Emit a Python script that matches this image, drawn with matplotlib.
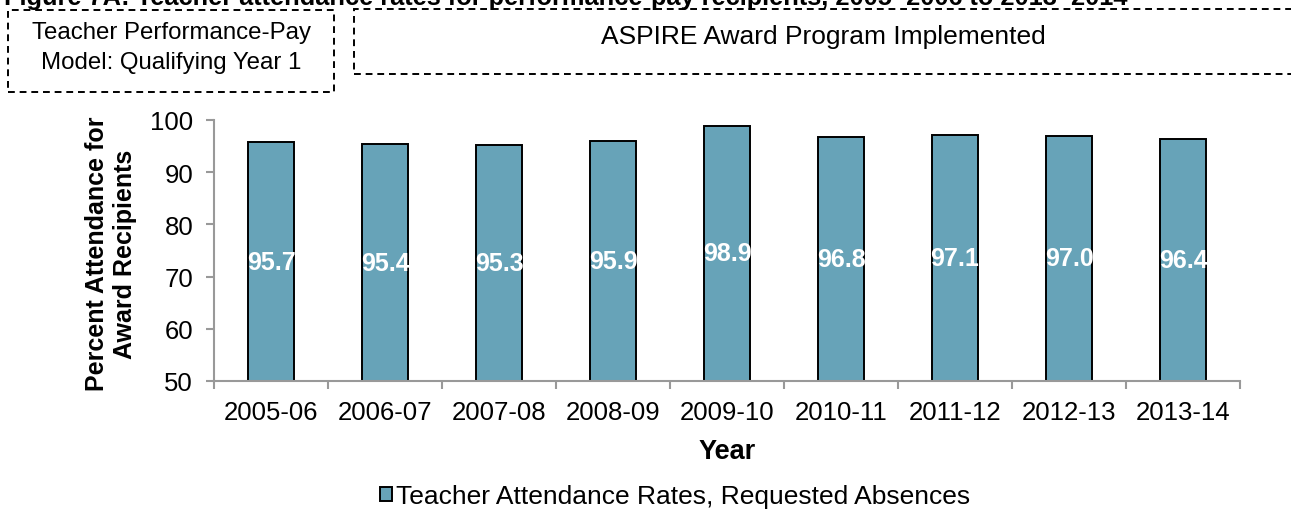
import matplotlib
matplotlib.use("Agg")
import matplotlib.pyplot as plt
from matplotlib.patches import Rectangle

years = ["2005-06", "2006-07", "2007-08", "2008-09", "2009-10",
         "2010-11", "2011-12", "2012-13", "2013-14"]
attendance = [95.7, 95.4, 95.3, 95.9, 98.9, 96.8, 97.1, 97.0, 96.4]
series_name = "Teacher Attendance Rates, Requested Absences"
title = ("Figure 7A: Teacher attendance rates for performance-pay recipients, "
         "2005\u20132006 to 2013\u20132014")

plt.rcParams['font.family'] = ['Liberation Sans', 'DejaVu Sans']

W, H = 1291, 510
fig = plt.figure(figsize=(W / 100, H / 100), dpi=100)
ax = fig.add_axes([214 / W, 1 - 382 / H, 1026 / W, 261 / H])

bar_color = '#67a3b8'
x = list(range(len(years)))
bars = ax.bar(x, [v - 50 for v in attendance], bottom=50, width=0.4,
              color=bar_color, edgecolor='black', linewidth=1.4,
              label=series_name)

for xi, v in zip(x, attendance):
    ax.text(xi, (50 + v) / 2, f"{v:.1f}", ha='center', va='center',
            color='white', fontsize=18, fontweight='bold')

ax.set_xlim(-0.5, len(years) - 0.5)
ax.set_ylim(50, 100)
ax.set_yticks(range(50, 101, 10))
ax.set_xticks(x)
ax.set_xticklabels(years)
ax.set_xticks([i - 0.5 for i in range(len(years) + 1)], minor=True)
ax.tick_params(axis='x', which='major', length=0, pad=14, labelsize=18.5)
ax.tick_params(axis='x', which='minor', length=6, width=1.5, color='#999999')
ax.tick_params(axis='y', length=6, width=1.5, color='#999999', pad=9,
               labelsize=18.5)

for side in ['top', 'right']:
    ax.spines[side].set_visible(False)
for side in ['left', 'bottom']:
    ax.spines[side].set_color('#999999')
    ax.spines[side].set_linewidth(1.5)

fig.text(727 / W, 1 - 452 / H, "Year", ha='center', va='center',
         fontsize=19.5, fontweight='bold')
fig.text(111 / W, 1 - 254 / H, "Percent Attendance for\nAward Recipients",
         ha='center', va='center', rotation=90, fontsize=18,
         fontweight='bold', linespacing=1.2)

# title of the figure, cut off at the top edge as in the source
fig.text(4 / W, 1 - 5 / H, title, ha='left', va='baseline',
         fontsize=18.3, fontweight='bold')

# dashed annotation boxes
box_kw = dict(fill=False, linestyle=(0, (3.5, 2.5)), linewidth=1.4,
              edgecolor='black', transform=fig.transFigure, clip_on=False)
fig.patches.append(Rectangle((8 / W, 1 - 93 / H), 326 / W, 82 / H, **box_kw))
fig.patches.append(Rectangle((354 / W, 1 - 75 / H), 960 / W, 65 / H, **box_kw))

fig.text(171 / W, 1 - 33 / H, "Teacher Performance-Pay", ha='center',
         va='center', fontsize=17.3)
fig.text(171 / W, 1 - 63 / H, "Model: Qualifying Year 1", ha='center',
         va='center', fontsize=17.3)
fig.text(823 / W, 1 - 37 / H, "ASPIRE Award Program Implemented",
         ha='center', va='center', fontsize=19)

fig.legend(handles=[bars], loc='center', bbox_to_anchor=(675 / W, 1 - 497 / H),
           frameon=False, fontsize=19, handlelength=0.45, handleheight=0.45,
           handletextpad=0.15, borderaxespad=0)

fig.savefig("out.png", dpi=100)
